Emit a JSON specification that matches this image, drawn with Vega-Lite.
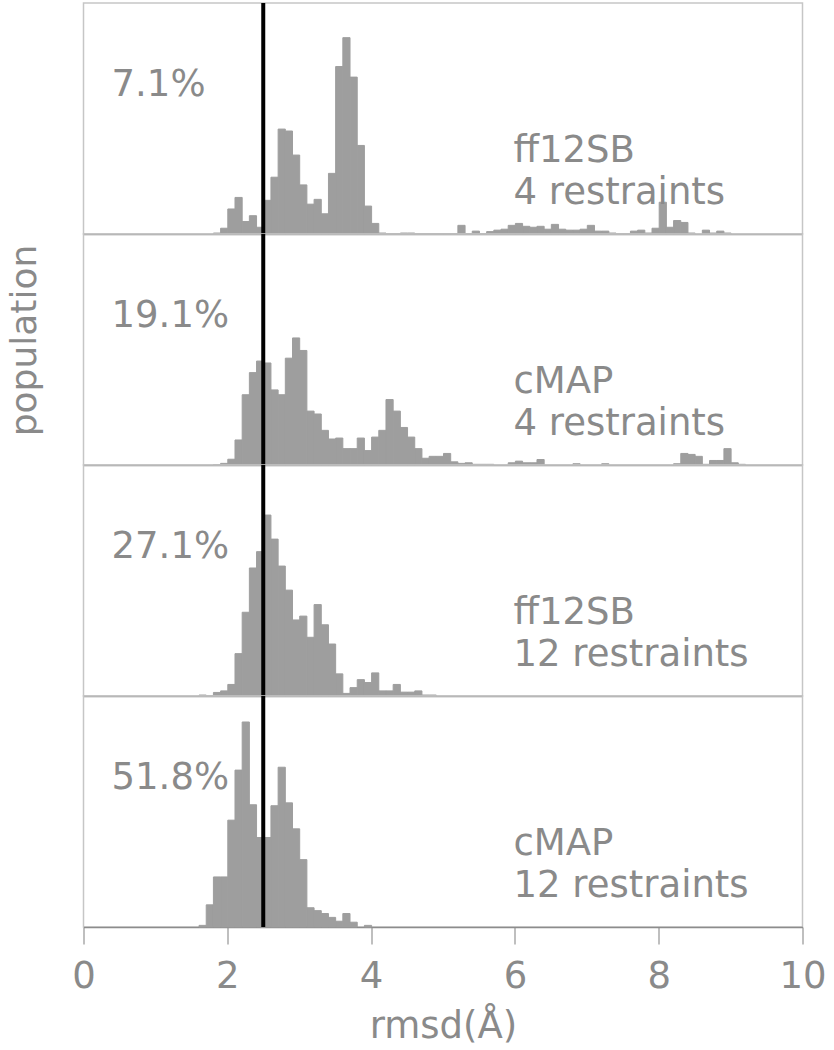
{
  "$schema": "https://vega.github.io/schema/vega-lite/v6.json",
  "padding": {"left": 5.5, "top": 0, "right": 5, "bottom": 0},
  "background": "white",
  "bounds": "flush",
  "spacing": 0,
  "config": {
    "view": {"stroke": "#c6c6c6", "strokeWidth": 1.5},
    "font": "DejaVu Sans",
    "axis": {"grid": false},
    "bar": {"color": "#9e9e9e", "stroke": "#9e9e9e", "strokeWidth": 1, "binSpacing": 0}
  },
  "datasets": {
    "bars": [
      {"p":1,"lo":1.8,"hi":1.9,"n":1},{"p":1,"lo":1.9,"hi":2.0,"n":6},{"p":1,"lo":2.0,"hi":2.1,"n":26},{"p":1,"lo":2.1,"hi":2.2,"n":38},{"p":1,"lo":2.2,"hi":2.3,"n":13},{"p":1,"lo":2.3,"hi":2.4,"n":19},{"p":1,"lo":2.4,"hi":2.5,"n":7},{"p":1,"lo":2.5,"hi":2.6,"n":35},{"p":1,"lo":2.6,"hi":2.7,"n":59},{"p":1,"lo":2.7,"hi":2.8,"n":109},{"p":1,"lo":2.8,"hi":2.9,"n":107},{"p":1,"lo":2.9,"hi":3.0,"n":82},{"p":1,"lo":3.0,"hi":3.1,"n":51},{"p":1,"lo":3.1,"hi":3.2,"n":31},{"p":1,"lo":3.2,"hi":3.3,"n":36},{"p":1,"lo":3.3,"hi":3.4,"n":21},{"p":1,"lo":3.4,"hi":3.5,"n":63},{"p":1,"lo":3.5,"hi":3.6,"n":174},{"p":1,"lo":3.6,"hi":3.7,"n":204},{"p":1,"lo":3.7,"hi":3.8,"n":163},{"p":1,"lo":3.8,"hi":3.9,"n":92},{"p":1,"lo":3.9,"hi":4.0,"n":29},{"p":1,"lo":4.0,"hi":4.1,"n":11},{"p":1,"lo":4.1,"hi":4.2,"n":1},{"p":1,"lo":4.2,"hi":4.3,"n":0.5},{"p":1,"lo":4.3,"hi":4.4,"n":0.5},{"p":1,"lo":4.4,"hi":4.5,"n":1},{"p":1,"lo":4.5,"hi":4.6,"n":1},{"p":1,"lo":4.6,"hi":4.7,"n":0.5},{"p":1,"lo":4.7,"hi":4.8,"n":0.5},{"p":1,"lo":4.8,"hi":4.9,"n":0.5},{"p":1,"lo":4.9,"hi":5.0,"n":0.5},{"p":1,"lo":5.0,"hi":5.1,"n":0.5},{"p":1,"lo":5.1,"hi":5.2,"n":0.5},{"p":1,"lo":5.2,"hi":5.3,"n":9},{"p":1,"lo":5.3,"hi":5.4,"n":0.5},{"p":1,"lo":5.4,"hi":5.5,"n":3},{"p":1,"lo":5.5,"hi":5.6,"n":0.5},{"p":1,"lo":5.6,"hi":5.7,"n":2.5},{"p":1,"lo":5.7,"hi":5.8,"n":4},{"p":1,"lo":5.8,"hi":5.9,"n":5},{"p":1,"lo":5.9,"hi":6.0,"n":9},{"p":1,"lo":6.0,"hi":6.1,"n":11},{"p":1,"lo":6.1,"hi":6.2,"n":8},{"p":1,"lo":6.2,"hi":6.3,"n":7},{"p":1,"lo":6.3,"hi":6.4,"n":8},{"p":1,"lo":6.4,"hi":6.5,"n":5},{"p":1,"lo":6.5,"hi":6.6,"n":10},{"p":1,"lo":6.6,"hi":6.7,"n":5},{"p":1,"lo":6.7,"hi":6.8,"n":4},{"p":1,"lo":6.8,"hi":6.9,"n":4},{"p":1,"lo":6.9,"hi":7.0,"n":5},{"p":1,"lo":7.0,"hi":7.1,"n":9},{"p":1,"lo":7.1,"hi":7.2,"n":3},{"p":1,"lo":7.2,"hi":7.3,"n":3},{"p":1,"lo":7.3,"hi":7.4,"n":1},{"p":1,"lo":7.4,"hi":7.5,"n":0.5},{"p":1,"lo":7.5,"hi":7.6,"n":0.5},{"p":1,"lo":7.6,"hi":7.7,"n":3},{"p":1,"lo":7.7,"hi":7.8,"n":4},{"p":1,"lo":7.8,"hi":7.9,"n":1},{"p":1,"lo":7.9,"hi":8.0,"n":6},{"p":1,"lo":8.0,"hi":8.1,"n":33},{"p":1,"lo":8.1,"hi":8.2,"n":7},{"p":1,"lo":8.2,"hi":8.3,"n":14},{"p":1,"lo":8.3,"hi":8.4,"n":12},{"p":1,"lo":8.4,"hi":8.5,"n":1},{"p":1,"lo":8.6,"hi":8.7,"n":4},{"p":1,"lo":8.7,"hi":8.8,"n":1},{"p":1,"lo":8.8,"hi":8.9,"n":3},{"p":1,"lo":8.9,"hi":9.0,"n":1},
      {"p":2,"lo":1.8,"hi":1.9,"n":0.5},{"p":2,"lo":1.9,"hi":2.0,"n":1.7},{"p":2,"lo":2.0,"hi":2.1,"n":6},{"p":2,"lo":2.1,"hi":2.2,"n":26},{"p":2,"lo":2.2,"hi":2.3,"n":73},{"p":2,"lo":2.3,"hi":2.4,"n":96},{"p":2,"lo":2.4,"hi":2.5,"n":108},{"p":2,"lo":2.5,"hi":2.6,"n":106},{"p":2,"lo":2.6,"hi":2.7,"n":78},{"p":2,"lo":2.7,"hi":2.8,"n":73},{"p":2,"lo":2.8,"hi":2.9,"n":111},{"p":2,"lo":2.9,"hi":3.0,"n":132},{"p":2,"lo":3.0,"hi":3.1,"n":119},{"p":2,"lo":3.1,"hi":3.2,"n":56},{"p":2,"lo":3.2,"hi":3.3,"n":53},{"p":2,"lo":3.3,"hi":3.4,"n":36},{"p":2,"lo":3.4,"hi":3.5,"n":27},{"p":2,"lo":3.5,"hi":3.6,"n":28},{"p":2,"lo":3.6,"hi":3.7,"n":17},{"p":2,"lo":3.7,"hi":3.8,"n":17},{"p":2,"lo":3.8,"hi":3.9,"n":28},{"p":2,"lo":3.9,"hi":4.0,"n":15},{"p":2,"lo":4.0,"hi":4.1,"n":29},{"p":2,"lo":4.1,"hi":4.2,"n":36},{"p":2,"lo":4.2,"hi":4.3,"n":68},{"p":2,"lo":4.3,"hi":4.4,"n":56},{"p":2,"lo":4.4,"hi":4.5,"n":39},{"p":2,"lo":4.5,"hi":4.6,"n":29},{"p":2,"lo":4.6,"hi":4.7,"n":17},{"p":2,"lo":4.7,"hi":4.8,"n":7},{"p":2,"lo":4.8,"hi":4.9,"n":9},{"p":2,"lo":4.9,"hi":5.0,"n":9},{"p":2,"lo":5.0,"hi":5.1,"n":12},{"p":2,"lo":5.1,"hi":5.2,"n":3.3},{"p":2,"lo":5.2,"hi":5.3,"n":1.7},{"p":2,"lo":5.3,"hi":5.4,"n":2.3},{"p":2,"lo":5.4,"hi":5.5,"n":0.7},{"p":2,"lo":5.5,"hi":5.6,"n":0.7},{"p":2,"lo":5.6,"hi":5.7,"n":0.7},{"p":2,"lo":5.9,"hi":6.0,"n":2.3},{"p":2,"lo":6.0,"hi":6.1,"n":4},{"p":2,"lo":6.1,"hi":6.2,"n":2.3},{"p":2,"lo":6.2,"hi":6.3,"n":2.3},{"p":2,"lo":6.3,"hi":6.4,"n":5.7},{"p":2,"lo":6.8,"hi":6.9,"n":1.3},{"p":2,"lo":7.2,"hi":7.3,"n":1.3},{"p":2,"lo":8.2,"hi":8.3,"n":1.3},{"p":2,"lo":8.3,"hi":8.4,"n":12},{"p":2,"lo":8.4,"hi":8.5,"n":11},{"p":2,"lo":8.5,"hi":8.6,"n":9},{"p":2,"lo":8.6,"hi":8.7,"n":0.7},{"p":2,"lo":8.7,"hi":8.8,"n":4.7},{"p":2,"lo":8.8,"hi":8.9,"n":4.7},{"p":2,"lo":8.9,"hi":9.0,"n":17},{"p":2,"lo":9.0,"hi":9.1,"n":2.3},{"p":2,"lo":9.1,"hi":9.2,"n":0.7},
      {"p":3,"lo":1.6,"hi":1.7,"n":1},{"p":3,"lo":1.7,"hi":1.8,"n":0.5},{"p":3,"lo":1.8,"hi":1.9,"n":3.7},{"p":3,"lo":1.9,"hi":2.0,"n":5.3},{"p":3,"lo":2.0,"hi":2.1,"n":12},{"p":3,"lo":2.1,"hi":2.2,"n":44},{"p":3,"lo":2.2,"hi":2.3,"n":87},{"p":3,"lo":2.3,"hi":2.4,"n":133},{"p":3,"lo":2.4,"hi":2.5,"n":150},{"p":3,"lo":2.5,"hi":2.6,"n":188},{"p":3,"lo":2.6,"hi":2.7,"n":163},{"p":3,"lo":2.7,"hi":2.8,"n":135},{"p":3,"lo":2.8,"hi":2.9,"n":110},{"p":3,"lo":2.9,"hi":3.0,"n":79},{"p":3,"lo":3.0,"hi":3.1,"n":83},{"p":3,"lo":3.1,"hi":3.2,"n":61},{"p":3,"lo":3.2,"hi":3.3,"n":95},{"p":3,"lo":3.3,"hi":3.4,"n":74},{"p":3,"lo":3.4,"hi":3.5,"n":54},{"p":3,"lo":3.5,"hi":3.6,"n":23},{"p":3,"lo":3.6,"hi":3.7,"n":2.7},{"p":3,"lo":3.7,"hi":3.8,"n":8.7},{"p":3,"lo":3.8,"hi":3.9,"n":17},{"p":3,"lo":3.9,"hi":4.0,"n":14},{"p":3,"lo":4.0,"hi":4.1,"n":24},{"p":3,"lo":4.1,"hi":4.2,"n":5.3},{"p":3,"lo":4.2,"hi":4.3,"n":5.3},{"p":3,"lo":4.3,"hi":4.4,"n":12},{"p":3,"lo":4.4,"hi":4.5,"n":4},{"p":3,"lo":4.5,"hi":4.6,"n":4},{"p":3,"lo":4.6,"hi":4.7,"n":5.3},{"p":3,"lo":4.7,"hi":4.8,"n":1},{"p":3,"lo":4.8,"hi":4.9,"n":1},
      {"p":4,"lo":1.6,"hi":1.7,"n":1.7},{"p":4,"lo":1.7,"hi":1.8,"n":23},{"p":4,"lo":1.8,"hi":1.9,"n":52},{"p":4,"lo":1.9,"hi":2.0,"n":52},{"p":4,"lo":2.0,"hi":2.1,"n":111},{"p":4,"lo":2.1,"hi":2.2,"n":163},{"p":4,"lo":2.2,"hi":2.3,"n":213},{"p":4,"lo":2.3,"hi":2.4,"n":127},{"p":4,"lo":2.4,"hi":2.5,"n":93},{"p":4,"lo":2.5,"hi":2.6,"n":93},{"p":4,"lo":2.6,"hi":2.7,"n":126},{"p":4,"lo":2.7,"hi":2.8,"n":166},{"p":4,"lo":2.8,"hi":2.9,"n":129},{"p":4,"lo":2.9,"hi":3.0,"n":102},{"p":4,"lo":3.0,"hi":3.1,"n":70},{"p":4,"lo":3.1,"hi":3.2,"n":20},{"p":4,"lo":3.2,"hi":3.3,"n":17},{"p":4,"lo":3.3,"hi":3.4,"n":14},{"p":4,"lo":3.4,"hi":3.5,"n":10},{"p":4,"lo":3.5,"hi":3.6,"n":6},{"p":4,"lo":3.6,"hi":3.7,"n":14},{"p":4,"lo":3.7,"hi":3.8,"n":5},{"p":4,"lo":3.9,"hi":4.0,"n":1.7}
    ],
    "labels": [
      {"p":1,"x":0.39,"y":143,"t":"7.1%"},{"p":1,"x":5.98,"y":75,"t":"ff12SB"},{"p":1,"x":5.98,"y":31,"t":"4 restraints"},
      {"p":2,"x":0.39,"y":143,"t":"19.1%"},{"p":2,"x":5.98,"y":75,"t":"cMAP"},{"p":2,"x":5.98,"y":31,"t":"4 restraints"},
      {"p":3,"x":0.39,"y":143,"t":"27.1%"},{"p":3,"x":5.98,"y":75,"t":"ff12SB"},{"p":3,"x":5.98,"y":31,"t":"12 restraints"},
      {"p":4,"x":0.39,"y":143,"t":"51.8%"},{"p":4,"x":5.98,"y":75,"t":"cMAP"},{"p":4,"x":5.98,"y":31,"t":"12 restraints"}
    ],
    "line": [{"v": 2.5}]
  },
  "vconcat": [
    {
      "width": 719, "height": 231,
      "layer": [
        {"data": {"name": "bars"}, "transform": [{"filter": "datum.p == 1"}],
         "mark": {"type": "bar"},
         "encoding": {
           "x": {"field": "lo", "type": "quantitative", "bin": {"binned": true}, "scale": {"domain": [0, 10], "nice": false},
                 "axis": {"title": null, "labels": false, "ticks": false, "domainColor": "#8c8c8c", "domainWidth": 1.5}},
           "x2": {"field": "hi"},
           "y": {"field": "n", "type": "quantitative", "scale": {"domain": [0, 231]}, "axis": null}
         }},
        {"data": {"name": "labels"}, "transform": [{"filter": "datum.p == 1"}],
         "mark": {"type": "text", "align": "left", "baseline": "alphabetic", "fontSize": 37, "color": "#8a8a8a"},
         "encoding": {"x": {"field": "x", "type": "quantitative"}, "y": {"field": "y", "type": "quantitative"}, "text": {"field": "t"}}},
        {"data": {"name": "line"}, "mark": {"type": "rule", "color": "black", "strokeWidth": 4},
         "encoding": {"x": {"field": "v", "type": "quantitative"}}}
      ]
    },
    {
      "width": 719, "height": 231,
      "layer": [
        {"data": {"name": "bars"}, "transform": [{"filter": "datum.p == 2"}],
         "mark": {"type": "bar"},
         "encoding": {
           "x": {"field": "lo", "type": "quantitative", "bin": {"binned": true}, "scale": {"domain": [0, 10], "nice": false},
                 "axis": {"title": null, "labels": false, "ticks": false, "domainColor": "#8c8c8c", "domainWidth": 1.5}},
           "x2": {"field": "hi"},
           "y": {"field": "n", "type": "quantitative", "scale": {"domain": [0, 231]},
                 "axis": {"title": "population", "labels": false, "ticks": false, "domain": false, "titleFontSize": 36, "titleFontWeight": "normal", "titleColor": "#8a8a8a", "titlePadding": 40, "titleY": 106}}
         }},
        {"data": {"name": "labels"}, "transform": [{"filter": "datum.p == 2"}],
         "mark": {"type": "text", "align": "left", "baseline": "alphabetic", "fontSize": 37, "color": "#8a8a8a"},
         "encoding": {"x": {"field": "x", "type": "quantitative"}, "y": {"field": "y", "type": "quantitative"}, "text": {"field": "t"}}},
        {"data": {"name": "line"}, "mark": {"type": "rule", "color": "black", "strokeWidth": 4},
         "encoding": {"x": {"field": "v", "type": "quantitative"}}}
      ]
    },
    {
      "width": 719, "height": 231,
      "layer": [
        {"data": {"name": "bars"}, "transform": [{"filter": "datum.p == 3"}],
         "mark": {"type": "bar"},
         "encoding": {
           "x": {"field": "lo", "type": "quantitative", "bin": {"binned": true}, "scale": {"domain": [0, 10], "nice": false},
                 "axis": {"title": null, "labels": false, "ticks": false, "domainColor": "#8c8c8c", "domainWidth": 1.5}},
           "x2": {"field": "hi"},
           "y": {"field": "n", "type": "quantitative", "scale": {"domain": [0, 231]}, "axis": null}
         }},
        {"data": {"name": "labels"}, "transform": [{"filter": "datum.p == 3"}],
         "mark": {"type": "text", "align": "left", "baseline": "alphabetic", "fontSize": 37, "color": "#8a8a8a"},
         "encoding": {"x": {"field": "x", "type": "quantitative"}, "y": {"field": "y", "type": "quantitative"}, "text": {"field": "t"}}},
        {"data": {"name": "line"}, "mark": {"type": "rule", "color": "black", "strokeWidth": 4},
         "encoding": {"x": {"field": "v", "type": "quantitative"}}}
      ]
    },
    {
      "width": 719, "height": 231,
      "layer": [
        {"data": {"name": "bars"}, "transform": [{"filter": "datum.p == 4"}],
         "mark": {"type": "bar"},
         "encoding": {
           "x": {"field": "lo", "type": "quantitative", "bin": {"binned": true}, "scale": {"domain": [0, 10], "nice": false},
                 "axis": {"title": "rmsd(Å)", "values": [0, 2, 4, 6, 8, 10], "format": "d", "labelFontSize": 37, "labelColor": "#8a8a8a", "labelPadding": 14, "labelFlush": false, "labelOverlap": false,
                          "tickSize": 17, "tickColor": "#aaaaaa", "tickWidth": 1.5, "domainColor": "#8c8c8c", "domainWidth": 1.5,
                          "titleFontSize": 37, "titleFontWeight": "normal", "titleColor": "#8a8a8a", "titlePadding": 14}},
           "x2": {"field": "hi"},
           "y": {"field": "n", "type": "quantitative", "scale": {"domain": [0, 231]}, "axis": null}
         }},
        {"data": {"name": "labels"}, "transform": [{"filter": "datum.p == 4"}],
         "mark": {"type": "text", "align": "left", "baseline": "alphabetic", "fontSize": 37, "color": "#8a8a8a"},
         "encoding": {"x": {"field": "x", "type": "quantitative"}, "y": {"field": "y", "type": "quantitative"}, "text": {"field": "t"}}},
        {"data": {"name": "line"}, "mark": {"type": "rule", "color": "black", "strokeWidth": 4},
         "encoding": {"x": {"field": "v", "type": "quantitative"}}}
      ]
    }
  ]
}
